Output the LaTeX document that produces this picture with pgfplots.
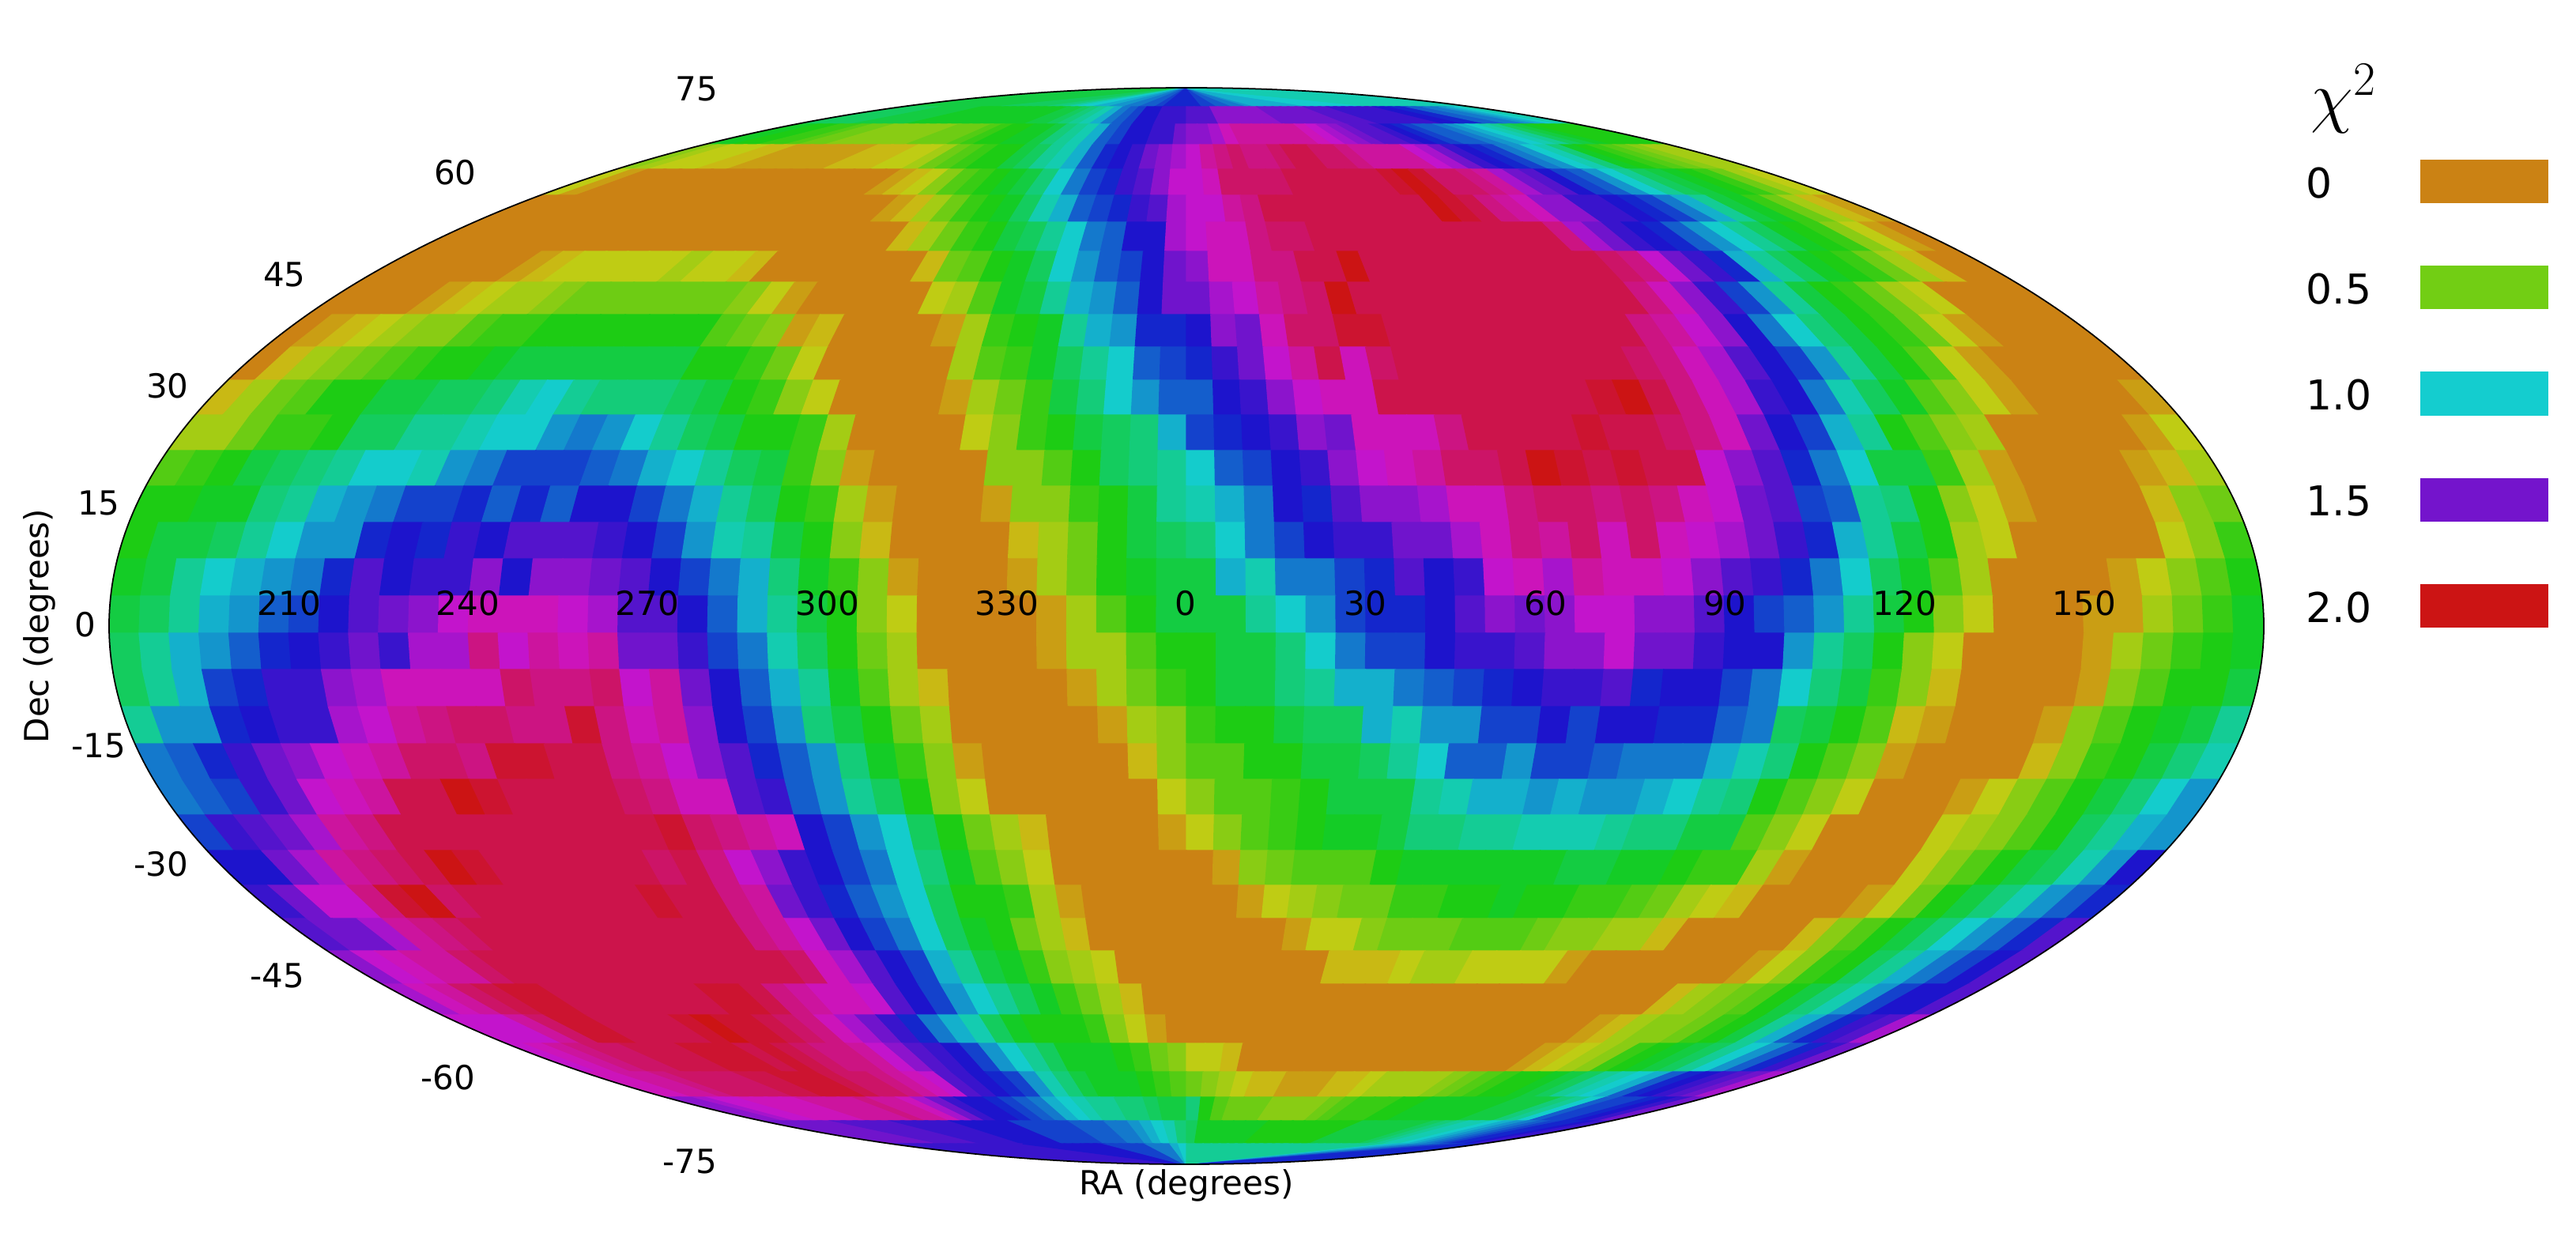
\documentclass[border=0pt]{standalone}
\usepackage{pgfplots}
\usepackage{fontspec}
\setmainfont{DejaVu Sans}
\pgfplotsset{compat=1.18}
\newcount\kk
\newcommand\band[3]{%
  \pgfmathsetmacro\wt{sqrt(max(0,1-((#1-792)/681)^2))}%
  \pgfmathsetmacro\wb{sqrt(max(0,1-((#2-792)/681)^2))}%
  \pgfmathsetmacro\wm{max(\wt,\wb)}%
  \kk=0 \gdef\ptop{}\gdef\pbot{}%
  \pgfplotsforeachungrouped \v in {#3}{%
    \ifnum\kk=0
      \pgfmathsetmacro\xt{1501-1364*\wm}\pgfmathsetmacro\xb{\xt}%
    \else
      \pgfmathsetmacro\xt{1501+(\the\kk-36)*37.86*\wt}%
      \pgfmathsetmacro\xb{1501+(\the\kk-36)*37.86*\wb}%
    \fi
    \xdef\ptop{\ptop (\xt,#1) [\v]}%
    \xdef\pbot{\pbot (\xb,#2) [\v]}%
    \xdef\vlast{\v}%
    \advance\kk by 1
  }%
  \pgfmathsetmacro\xt{1501+1364*\wm}%
  \edef\doband{\noexpand\addplot[surf,shader=flat corner,z buffer=none,mesh/rows=2,point meta=explicit,forget plot] coordinates {\ptop (\xt,#1) [\vlast] \pbot (\xt,#2) [\vlast]};}%
  \doband
}
\pgfplotsset{colormap={chi}{rgb255(0cm)=(203,130,20) rgb255(12cm)=(203,130,20) rgb255(20cm)=(200,204,20) rgb255(40cm)=(20,204,20) rgb255(60cm)=(20,204,204) rgb255(80cm)=(20,20,204) rgb255(100cm)=(204,20,204) rgb255(120cm)=(204,20,20)}}
\begin{document}
\begin{tikzpicture}
\begin{axis}[scale only axis,width=32.59cm,height=15.64cm,xmin=0,xmax=3259,ymin=0,ymax=1564,y dir=reverse,hide axis,clip=false,colormap name=chi,point meta min=0,point meta max=40]
\band{111}{135}{15,15,15,15,15,15,15,15,15,15,15,15,16,16,16,16,16,16,17,17,18,19,20,20,21,21,22,22,23,23,24,24,25,26,26,26,26,26,25,25,24,24,23,23,22,21,21,21,21,21,21,21,20,20,20,20,20,20,20,20,19,19,19,19,19,19,19,19,19,19,19,19}
\band{135}{157}{16,16,16,16,16,15,15,15,15,15,14,14,14,14,14,14,14,14,14,14,14,15,15,16,17,18,19,21,23,24,25,27,27,28,28,28,29,29,29,31,31,31,31,31,31,30,30,30,30,30,30,29,29,29,28,28,28,28,28,28,27,27,26,26,24,24,23,23,22,21,20,19}
\band{157}{183}{14,14,13,13,12,12,11,10,10,9,9,9,9,9,9,10,10,10,11,12,13,13,14,14,15,17,18,19,21,24,25,27,27,28,28,30,31,31,32,34,35,35,35,35,35,35,34,33,32,31,30,29,29,28,27,26,25,24,24,23,22,21,20,19,18,16,15,14,13,13,13,13}
\band{183}{214}{9,8,7,7,7,6,6,5,5,5,5,5,5,6,6,6,7,7,8,10,11,12,13,13,15,16,18,19,21,24,26,27,28,30,31,32,33,35,36,37,36,36,37,38,38,37,37,36,35,35,35,35,33,32,30,28,27,26,25,23,22,20,19,17,14,13,12,11,10,9,8,8}
\band{214}{247}{7,5,3,3,3,3,3,3,3,3,3,3,3,3,3,3,3,4,5,6,7,9,11,12,13,14,15,17,20,23,25,26,28,29,31,33,33,34,37,37,37,37,38,38,38,38,38,38,39,40,39,37,37,36,35,32,30,29,27,25,24,22,20,18,16,15,14,13,12,10,8,7}
\band{247}{281}{3,3,3,3,3,3,3,3,3,3,3,3,3,3,3,3,3,3,3,4,5,6,8,10,12,13,14,16,19,21,24,25,26,28,29,32,33,33,35,36,38,38,38,38,38,38,38,38,38,40,39,38,36,35,34,31,31,28,28,27,26,25,23,21,18,15,14,12,10,8,6,5}
\band{281}{318}{3,3,3,3,3,3,3,3,4,4,4,4,4,4,3,3,3,3,3,3,3,4,6,8,10,12,13,15,16,18,20,23,24,27,27,32,33,34,34,36,37,37,38,38,38,38,38,38,38,38,38,38,38,38,36,32,30,28,27,26,24,22,20,18,16,14,13,12,9,7,5,4}
\band{318}{357}{3,3,3,3,3,3,5,6,7,7,7,7,7,8,7,7,6,3,3,3,3,3,3,4,6,10,11,13,14,16,20,22,24,25,27,30,31,34,34,36,36,38,38,40,38,38,38,38,38,38,38,38,38,38,38,37,36,33,30,28,26,21,18,16,14,13,12,10,8,6,3,3}
\band{357}{398}{3,3,3,4,5,6,7,8,8,9,10,10,10,10,10,10,10,9,7,5,3,3,3,3,4,7,8,11,14,15,18,21,22,24,27,30,30,32,33,35,36,37,40,38,38,38,38,38,38,38,38,38,38,38,38,36,34,31,28,25,22,18,15,13,12,10,8,7,4,3,3,3}
\band{398}{439}{3,5,6,7,8,9,9,11,12,12,13,13,13,13,13,13,13,11,10,9,5,6,3,3,3,4,5,8,12,13,14,18,21,22,26,26,27,31,30,34,37,37,39,39,38,38,38,38,38,38,38,38,38,38,36,35,33,31,27,23,20,17,15,13,12,10,7,5,4,3,3,3}
\band{439}{481}{4,6,8,9,10,11,12,13,13,14,15,15,15,15,15,15,15,13,13,12,10,7,4,3,3,3,4,8,11,12,14,16,18,20,24,25,26,28,30,33,35,38,34,37,38,38,38,38,38,38,38,38,38,37,36,34,32,29,27,25,22,18,15,13,11,7,5,3,3,3,3,3}
\band{481}{525}{6,8,10,11,13,13,15,15,16,16,17,19,20,18,17,17,17,16,15,13,12,9,7,3,3,3,3,5,8,10,12,15,17,20,22,24,24,27,28,31,33,34,34,38,38,38,38,38,38,38,38,39,40,38,36,34,32,28,27,23,19,16,14,11,9,7,5,3,3,3,3,5}
\band{525}{570}{8,8,10,12,12,13,16,16,18,18,19,20,20,22,23,22,20,18,16,15,13,13,12,8,3,3,3,3,7,9,12,13,15,16,17,21,25,26,27,28,31,30,34,34,34,36,38,38,38,38,39,38,38,37,36,34,30,27,25,21,18,13,11,9,8,3,3,3,3,4,5,7}
\band{570}{615}{11,12,13,15,16,17,18,20,20,19,22,23,25,25,25,24,23,21,20,18,16,15,12,9,5,3,3,3,3,9,9,11,13,16,17,18,20,24,25,27,28,31,33,34,35,37,37,38,40,39,38,39,38,38,33,31,29,26,23,20,15,15,12,8,5,3,3,3,4,5,6,8}
\band{615}{661}{13,13,14,14,17,18,21,22,23,25,25,26,24,26,24,27,27,25,23,21,18,16,13,12,8,5,3,3,3,5,9,9,12,13,15,18,19,21,23,27,26,29,31,31,32,34,34,36,37,37,36,37,36,34,33,30,29,25,24,18,17,13,9,7,5,3,3,3,3,6,9,10}
\band{661}{707}{13,15,15,16,18,20,22,22,26,27,26,28,27,29,29,29,28,27,25,22,19,18,15,13,9,6,3,3,3,3,6,8,10,13,15,16,17,20,23,25,27,28,28,30,30,32,34,36,35,37,34,37,34,33,32,30,28,26,21,18,15,13,8,7,3,3,3,3,4,7,9,12}
\band{707}{754}{14,15,18,20,21,22,23,26,29,27,28,28,31,27,31,31,30,29,27,25,23,21,17,14,12,9,5,3,3,3,5,8,10,13,14,15,15,21,19,23,23,25,26,29,27,28,33,34,32,35,34,34,33,31,29,28,26,23,20,16,14,11,8,4,3,3,3,5,7,9,11,13}
\band{754}{801}{15,16,18,21,22,24,25,27,29,30,31,33,34,34,34,33,32,29,29,27,24,21,18,15,13,9,7,3,3,3,3,5,8,11,13,15,15,15,18,20,22,25,26,26,27,29,31,30,31,33,33,31,31,29,27,25,24,22,18,15,13,9,7,3,3,3,5,5,8,10,12,14}
\band{801}{847}{16,18,21,22,24,26,27,28,30,28,32,32,36,33,35,34,35,30,30,28,25,23,19,16,13,10,8,3,3,3,3,5,8,8,11,13,13,15,15,17,20,23,25,25,27,28,28,29,31,31,33,30,30,28,27,27,22,18,16,13,9,7,3,3,3,3,5,8,10,12,13,14}
\band{847}{894}{16,18,21,25,26,28,28,31,32,34,34,34,34,37,36,36,37,33,35,30,27,24,21,18,14,11,8,6,3,3,3,3,5,8,10,12,13,15,15,17,18,21,21,23,24,25,26,27,28,28,29,26,27,27,25,23,20,17,15,12,9,6,3,3,3,3,5,9,11,13,13,15}
\band{894}{941}{18,22,22,26,27,28,28,32,33,35,36,37,37,36,36,39,36,34,35,31,27,25,22,17,15,13,10,8,4,3,3,3,3,5,8,9,12,13,13,15,16,16,21,19,22,22,25,25,27,25,27,27,26,26,24,23,16,15,13,11,6,5,3,3,3,5,9,11,13,14,15,18}
\band{941}{986}{23,24,26,28,30,31,33,34,35,37,37,36,39,39,38,38,36,35,33,31,29,26,24,22,17,14,12,9,5,3,3,3,3,3,6,9,11,11,13,13,15,15,16,18,20,24,24,22,25,25,24,23,23,23,21,19,17,13,11,9,5,3,3,3,4,6,9,12,13,15,17,19}
\band{986}{1031}{23,24,25,28,30,33,34,35,38,38,40,39,38,38,38,38,37,36,34,34,29,28,24,22,18,16,13,9,7,4,3,3,3,3,4,7,9,11,11,12,13,15,15,15,18,19,21,21,22,21,22,22,21,20,18,17,13,11,9,7,3,3,3,5,7,9,11,13,15,17,20,22}
\band{1031}{1076}{25,28,29,30,32,35,36,38,38,38,38,38,38,38,38,38,38,39,37,36,35,34,27,25,22,20,16,13,10,8,6,3,3,3,3,5,7,9,11,12,13,14,14,15,17,17,18,18,19,19,19,18,17,17,15,15,11,9,7,4,3,3,3,7,8,9,11,13,16,18,21,22}
\band{1076}{1120}{27,27,30,32,35,36,37,38,40,39,38,38,38,38,38,38,37,38,36,33,31,28,27,25,23,20,17,14,11,9,7,4,3,3,3,3,4,5,9,10,11,11,11,13,14,14,14,14,14,14,15,15,14,14,13,12,12,8,5,3,3,3,3,7,9,11,13,15,16,19,22,27}
\band{1120}{1162}{28,30,33,33,36,39,40,37,38,38,38,38,38,38,38,39,38,38,36,35,30,28,26,24,22,20,16,13,13,12,8,5,3,3,3,3,3,4,5,7,8,9,10,10,12,12,13,13,14,13,13,12,12,11,10,8,7,6,4,3,3,4,5,7,10,13,15,17,19,22,24,26}
\band{1162}{1203}{29,30,30,32,35,36,37,38,38,38,38,38,38,38,38,38,38,38,36,35,33,30,27,25,23,20,16,14,13,10,8,6,4,3,3,3,3,3,3,4,5,7,7,9,10,10,10,11,11,11,10,9,9,8,8,6,3,3,3,3,4,6,9,11,13,15,17,20,22,24,26,29}
\band{1203}{1245}{31,33,34,35,35,37,38,38,38,38,38,38,38,38,38,38,38,38,38,37,34,32,29,27,25,21,18,15,14,12,9,8,7,4,3,3,3,3,3,3,3,3,6,6,6,7,8,8,7,7,7,7,5,3,3,3,3,3,3,3,5,7,9,12,13,16,18,21,23,25,27,29}
\band{1245}{1284}{32,34,35,37,38,39,39,38,38,38,38,38,38,38,39,39,38,36,35,34,34,33,29,27,25,22,20,18,16,14,12,10,8,6,3,3,3,3,3,3,3,3,3,3,3,3,3,3,3,3,3,3,3,3,3,3,3,4,6,8,9,10,11,13,15,17,19,22,25,27,27,29}
\band{1284}{1320}{33,33,33,35,37,39,39,38,38,38,38,39,40,39,39,38,37,36,34,32,30,28,26,23,21,19,16,14,13,13,13,12,9,7,5,3,3,3,3,3,3,3,3,3,3,3,3,3,3,3,3,3,3,3,4,4,5,6,8,9,9,10,12,13,15,18,21,24,26,28,29,32}
\band{1320}{1356}{33,34,35,36,37,37,38,38,38,39,39,39,38,39,38,37,36,36,35,33,31,29,28,27,25,22,20,18,16,14,14,14,13,12,10,9,7,7,6,3,3,3,3,3,3,3,3,3,3,3,3,3,3,4,4,5,6,7,8,9,12,13,14,15,16,18,20,22,24,26,28,30}
\band{1356}{1388}{34,34,35,35,36,37,37,37,37,38,38,39,39,39,38,37,37,36,35,34,33,29,28,27,26,25,22,19,17,15,14,14,14,13,12,11,10,9,8,7,6,6,5,5,5,6,6,7,8,8,8,8,9,10,11,12,13,13,14,15,16,18,19,20,21,24,26,27,28,29,30,32}
\band{1388}{1418}{31,31,32,33,33,34,34,34,34,35,35,35,35,36,35,35,34,32,30,28,27,27,26,25,24,23,21,20,19,18,18,17,17,16,15,15,17,13,11,10,10,10,9,9,9,9,10,11,12,12,12,13,13,14,14,14,14,14,14,15,15,15,17,18,20,24,25,25,26,27,28,30}
\band{1418}{1447}{30,30,30,30,30,30,29,29,29,29,29,28,28,28,28,28,27,27,27,27,27,25,25,25,25,25,24,24,24,23,23,22,21,20,19,17,16,14,14,14,14,14,14,13,13,13,13,13,13,13,13,15,15,15,15,15,15,16,17,18,19,19,20,21,22,23,24,25,26,26,27,28}
\band{1447}{1474}{28,28,28,28,28,28,28,28,28,28,28,28,28,28,28,28,27,27,27,27,27,27,27,27,27,27,25,25,25,25,25,23,23,23,21,20,18,18,18,18,18,18,18,18,18,18,18,18,18,18,18,18,18,18,18,18,18,18,18,18,18,20,21,21,22,23,23,24,25,25,26,26}
\fill[white,even odd rule] (axis cs:0,0) rectangle (axis cs:3259,1564) (axis cs:1501,792) ellipse [x radius=1363,y radius=681];
\draw[black,line width=0.5pt] (axis cs:1501,792) ellipse [x radius=1363,y radius=681];
\tikzset{lab/.style={inner sep=0pt,font=\fontsize{11.95}{14}\selectfont},leg/.style={inner sep=0pt,anchor=west,font=\fontsize{14.8}{17}\selectfont}}
\node[lab] at (axis cs:366,763) {210};
\node[lab] at (axis cs:592,763) {240};
\node[lab] at (axis cs:819,763) {270};
\node[lab] at (axis cs:1047,763) {300};
\node[lab] at (axis cs:1274,763) {330};
\node[lab] at (axis cs:1500,763) {0};
\node[lab] at (axis cs:1727,763) {30};
\node[lab] at (axis cs:1955,763) {60};
\node[lab] at (axis cs:2182,763) {90};
\node[lab] at (axis cs:2410,763) {120};
\node[lab] at (axis cs:2637,763) {150};
\node[lab] at (axis cs:881,112) {75};
\node[lab] at (axis cs:576,218) {60};
\node[lab] at (axis cs:360,347) {45};
\node[lab] at (axis cs:212,488) {30};
\node[lab] at (axis cs:125,636) {15};
\node[lab] at (axis cs:108,790) {0};
\node[lab] at (axis cs:125,943) {-15};
\node[lab] at (axis cs:204,1093) {-30};
\node[lab] at (axis cs:351,1234) {-45};
\node[lab] at (axis cs:567,1363) {-60};
\node[lab] at (axis cs:873,1469) {-75};
\node[lab] at (axis cs:1501,1500) {RA (degrees)};
\node[lab,rotate=90] at (axis cs:50,792) {Dec (degrees)};
\node[inner sep=0pt,font=\fontsize{25}{30}\selectfont] at (axis cs:2965,125) {$\chi^2$};
\node[leg] at (axis cs:2917,232) {0};
\node[leg] at (axis cs:2917,366) {0.5};
\node[leg] at (axis cs:2917,500) {1.0};
\node[leg] at (axis cs:2917,634) {1.5};
\node[leg] at (axis cs:2917,769) {2.0};
\fill[fill={rgb,255:red,203;green,130;blue,20}] (axis cs:3062,202) rectangle (axis cs:3224,257);
\fill[fill={rgb,255:red,114;green,206;blue,20}] (axis cs:3062,336) rectangle (axis cs:3224,391);
\fill[fill={rgb,255:red,20;green,205;blue,207}] (axis cs:3062,470) rectangle (axis cs:3224,526);
\fill[fill={rgb,255:red,116;green,20;blue,204}] (axis cs:3062,605) rectangle (axis cs:3224,660);
\fill[fill={rgb,255:red,204;green,20;blue,20}] (axis cs:3062,739) rectangle (axis cs:3224,794);
\end{axis}
\end{tikzpicture}
\end{document}
